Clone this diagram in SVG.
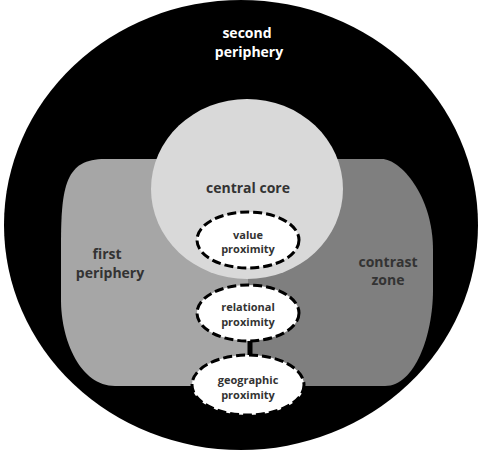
<svg xmlns="http://www.w3.org/2000/svg" width="481" height="451" viewBox="0 0 481 451">
<defs>
<style>
.lbl{font-family:"Open Sans","Liberation Sans",sans-serif;font-weight:bold;text-anchor:middle}
.big{font-size:14px}
.sm{font-size:11px;fill:#333}
.dark{fill:#333}
.prox{fill:#fff;stroke:#000;stroke-width:3;stroke-dasharray:9 4}
</style>
<clipPath id="zone"><path d="M105,159 L382,159 C400,159 433,195 433,250 L433,290 C433,335 415,386 385,386 L115,386 C80,386 61,340 61,300 L61,245 C61,185 66,159 105,159 Z"/></clipPath>
</defs>
<rect width="481" height="451" fill="#fff"/>
<g id="second-periphery">
<ellipse cx="241" cy="225" rx="237" ry="225" fill="#000"/>
<text class="lbl big" fill="#fff" x="247" y="38">second</text>
<text class="lbl big" fill="#fff" x="249" y="57">periphery</text>
</g>
<g id="first-periphery">
<rect x="55" y="155" width="193" height="235" fill="#a6a6a6" clip-path="url(#zone)"/>
<text class="lbl big dark" x="107" y="259">first</text>
<text class="lbl big dark" x="110" y="278">periphery</text>
</g>
<g id="contrast-zone">
<rect x="248" y="155" width="192" height="235" fill="#7f7f7f" clip-path="url(#zone)"/>
<text class="lbl big dark" x="388" y="267">contrast</text>
<text class="lbl big dark" x="388" y="285">zone</text>
</g>
<g id="central-core">
<ellipse cx="247" cy="189" rx="96" ry="90" fill="#d9d9d9"/>
<text class="lbl big dark" x="248" y="193">central core</text>
</g>
<g id="connectors">
<line x1="250" y1="341" x2="250" y2="357" stroke="#000" stroke-width="5"/>
</g>
<g id="value-proximity">
<ellipse class="prox" cx="248" cy="240" rx="51" ry="28"/>
<text class="lbl sm" x="248" y="239">value</text>
<text class="lbl sm" x="248" y="253">proximity</text>
</g>
<g id="relational-proximity">
<ellipse class="prox" cx="248" cy="313" rx="51" ry="28"/>
<text class="lbl sm" x="248" y="311">relational</text>
<text class="lbl sm" x="248" y="326">proximity</text>
</g>
<g id="geographic-proximity">
<ellipse class="prox" cx="248" cy="385" rx="56" ry="30"/>
<text class="lbl sm" x="248" y="384">geographic</text>
<text class="lbl sm" x="248" y="399">proximity</text>
</g>
</svg>
